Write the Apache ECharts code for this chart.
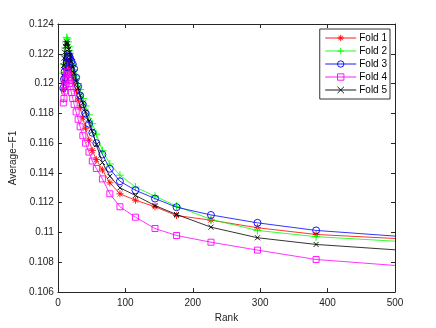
<!DOCTYPE html>
<html><head><meta charset="utf-8">
<script src="https://cdn.jsdelivr.net/npm/echarts@6/dist/echarts.min.js"></script>
<style>html,body{margin:0;padding:0;background:#fff}#c{width:436px;height:328px}</style>
</head><body><div id="c"></div>
<script>
const ranks = [8,9,10,11,12,13,14,15,16,17,18,20,22,24,27,30,33,37,41,46,51,57,66,77,92,115,144,176,227,296,383,500];
const fold1 = [0.1196,0.1201,0.1206,0.1210,0.1213,0.1215,0.1216,0.1214,0.1213,0.1211,0.1209,0.1207,0.1204,0.1200,0.1195,0.1189,0.1184,0.1177,0.1170,0.1162,0.1155,0.1149,0.1142,0.11334,0.1126,0.11217,0.11173,0.11114,0.11083,0.11032,0.10987,0.1096];
const fold2 = [0.1207,0.1213,0.1219,0.1224,0.1228,0.1231,0.1230,0.1228,0.1225,0.1222,0.1220,0.1216,0.1213,0.1209,0.1205,0.1200,0.1196,0.1190,0.1185,0.1179,0.1173,0.1166,0.1155,0.1146,0.11385,0.11305,0.11244,0.11177,0.11088,0.11014,0.10972,0.10942];
const fold3 = [0.1197,0.1203,0.1208,0.1204,0.1211,0.1214,0.1217,0.1218,0.1219,0.1218,0.1217,0.1215,0.1213,0.1210,0.1204,0.1198,0.1192,0.1186,0.1180,0.1173,0.1167,0.1160,0.11524,0.11428,0.11344,0.11284,0.11228,0.11170,0.11118,0.11065,0.11014,0.10976];
const fold4 = [0.1187,0.1190,0.1195,0.1199,0.1203,0.1206,0.1208,0.1206,0.1203,0.1200,0.1198,0.1194,0.1190,0.1186,0.1181,0.1176,0.1171,0.1165,0.1160,0.1154,0.1148,0.1143,0.1136,0.1126,0.11173,0.11103,0.11027,0.1098,0.10935,0.10882,0.10819,0.10779];
const fold5 = [0.1212,0.1217,0.1221,0.1225,0.1227,0.1228,0.1227,0.1225,0.1223,0.1221,0.1219,0.1215,0.1211,0.1207,0.1202,0.1197,0.1192,0.1187,0.1181,0.1175,0.1168,0.1159,0.1147,0.11378,0.1130,0.11249,0.11181,0.11121,0.11036,0.10965,0.1092,0.10884];
const seriesNames = ['Fold 1','Fold 2','Fold 3','Fold 4','Fold 5'];
const xTicks = [0,100,200,300,400,500];
const yTicks = [0.106,0.108,0.11,0.112,0.114,0.116,0.118,0.12,0.122,0.124];

const colors = ['#ff0000','#00ff00','#0000ff','#ff00ff','#000000'];
const symbols = [
  'path://M0,-1L0,1M-1,0L1,0M-0.7,-0.7L0.7,0.7M-0.7,0.7L0.7,-0.7',
  'path://M0,-1L0,1M-1,0L1,0',
  'circle',
  'rect',
  'path://M-1,-1L1,1M-1,1L1,-1'
];
const sizes = [7,8,7,6,5];
const values = [fold1,fold2,fold3,fold4,fold5];
const FONT = 'Liberation Sans, Arial, Helvetica, sans-serif';
const axisColor = '#262626';

function mk(vals){
  return ranks.map((r,i)=> r>=xTicks[xTicks.length-1] ? {value:[r,vals[i]], symbol:'none'} : [r,vals[i]]);
}

const series = values.map((v,k)=>({
  name: seriesNames[k], type:'line', data: mk(v),
  symbol: symbols[k], symbolSize: sizes[k],
  lineStyle:{color:colors[k], width:0.8},
  itemStyle:{color:'rgba(0,0,0,0)', borderColor:colors[k], borderWidth:0.9},
  emphasis:{disabled:true}, animation:false, z: 2+k
}));

const baseX = {type:'value', min:xTicks[0], max:xTicks[xTicks.length-1], interval:100,
  axisLine:{show:true, onZero:false, lineStyle:{color:axisColor, width:1}},
  axisTick:{show:true, inside:true, length:4, lineStyle:{color:axisColor}},
  splitLine:{show:false}};
const baseY = {type:'value', min:yTicks[0], max:yTicks[yTicks.length-1], interval:0.002,
  axisLine:{show:true, onZero:false, lineStyle:{color:axisColor, width:1}},
  axisTick:{show:true, inside:true, length:4, lineStyle:{color:axisColor}},
  splitLine:{show:false}};

const chart = echarts.init(document.getElementById('c'), null, {renderer:'canvas'});
chart.setOption({
  animation:false,
  backgroundColor:'#fff',
  grid:{left:57, right:41, top:24, bottom:35, containLabel:false},
  xAxis:[
    Object.assign({}, baseX, {position:'bottom', name:'Rank', nameLocation:'middle', nameGap:15,
      nameTextStyle:{fontFamily:FONT, fontSize:10, color:'#222'},
      axisLabel:{fontFamily:FONT, fontSize:10, color:'#222', margin:6}}),
    Object.assign({}, baseX, {position:'top', axisLabel:{show:false}})
  ],
  yAxis:[
    Object.assign({}, baseY, {position:'left', name:'Average\u2212F1', nameLocation:'middle', nameGap:27,
      nameTextStyle:{fontFamily:FONT, fontSize:10, color:'#222'},
      axisLabel:{fontFamily:FONT, fontSize:10, color:'#222', margin:4}}),
    Object.assign({}, baseY, {position:'right', axisLabel:{show:false}})
  ],
  legend:{
    data: seriesNames, orient:'vertical', right:46, top:29,
    backgroundColor:'#fff', borderColor:'#000', borderWidth:0.8,
    padding:[3,3,3,5], itemGap:1, itemWidth:31, itemHeight:8,
    textStyle:{fontFamily:FONT, fontSize:10, color:'#000', lineHeight:12, padding:[0,0,0,-2]},
    itemStyle:{borderWidth:0.9},
    lineStyle:{width:0.9}
  },
  series: series
});
</script></body></html>
